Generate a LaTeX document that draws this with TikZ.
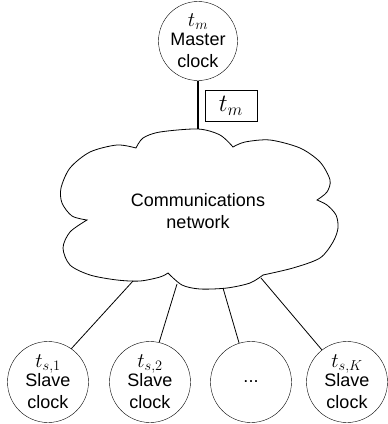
\documentclass[tikz,border=0pt]{standalone}
\usepackage{fontspec}
\setmainfont{Liberation Sans}
\usetikzlibrary{positioning}

\newcommand{\clocklabel}[1]{{\fontsize{21}{21}\selectfont$#1$}}

\begin{document}
\begin{tikzpicture}[x=1pt,y=-1pt,
		clocknode/.style={draw,circle,minimum size=81pt,inner sep=0pt,align=center,font=\fontsize{18}{22}\selectfont},
		link/.style={line width=0.8pt}]
			\useasboundingbox (0,0) rectangle (388,424);

			% master clock
			\node[clocknode,minimum size=79pt] (master) at (198,41) {\clocklabel{t_m}\\[-3pt]Master\\clock};
			\coordinate (net-top) at (198,129);
			\draw[line width=2pt] (master.south) -- (net-top);
			\node[draw,link,minimum width=52pt,minimum height=31pt,inner sep=0pt,font=\fontsize{27}{30}\selectfont] (stamp) at (231,106) {$t_m$};

			% network cloud
			\draw[link] (136,148)
				-- plot[smooth] coordinates {(136,148) (143,138) (160,132) (198,129) (220,135) (233,147)}
				-- plot[smooth] coordinates {(233,147) (245,142) (270,140) (300,148) (320,162) (330,180) (327,192) (317,200)}
				-- plot[smooth] coordinates {(317,200) (327,205) (336,215) (338,228) (333,242) (320,258) (293,268) (263,275)}
				-- plot[smooth] coordinates {(263,275) (250,283) (227,288) (200,289) (182,285) (168,273)}
				-- plot[smooth] coordinates {(168,273) (160,277) (140,281) (117,280) (90,275) (70,265) (63,248) (70,232) (87,220)}
				-- plot[smooth] coordinates {(87,220) (72,216) (62,203) (61,188) (70,168) (90,152) (117,145) (136,148)}
				-- cycle;
			\node[align=center,font=\fontsize{18}{22}\selectfont] (network) at (198,211) {Communications\\network};

			\coordinate (net-a) at (133,281);
			\coordinate (net-b) at (177,284);
			\coordinate (net-c) at (223,288);
			\coordinate (net-d) at (261,278);

			% slave clocks
			\node[clocknode] (slave1) at (48,382) {\clocklabel{t_{s,1}}\\[-3pt]Slave\\clock};
			\node[clocknode] (slave2) at (150,382) {\clocklabel{t_{s,2}}\\[-3pt]Slave\\clock};
			\node[clocknode] (slave3) at (251,382) {...};
			\node[clocknode] (slaveK) at (347,382) {\clocklabel{t_{s,K}}\\[-3pt]Slave\\clock};

			\draw[link] (net-a) -- (slave1.55);
			\draw[link] (net-b) -- (slave2.77);
			\draw[link] (net-c) -- (slave3.107);
			\draw[link] (net-d) -- (slaveK.128);
		\end{tikzpicture}
\end{document}
